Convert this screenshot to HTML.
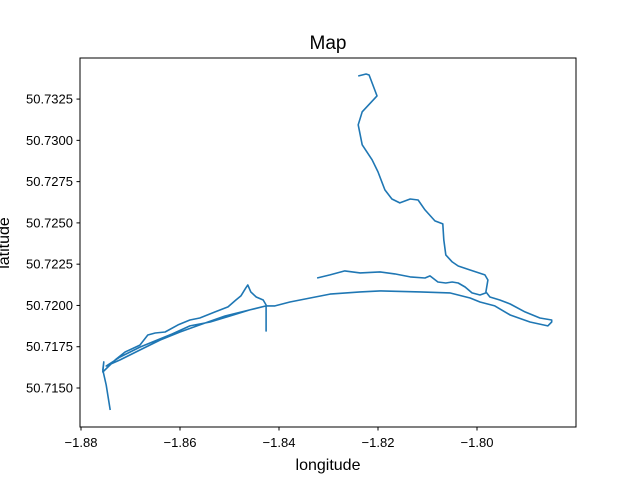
<!DOCTYPE html>
<html><head><meta charset="utf-8"><style>
body{margin:0;background:#fff}
svg{display:block;font-family:"Liberation Sans","DejaVu Sans",sans-serif}
</style></head><body>
<svg id="chart" width="640" height="480">
<rect width="640" height="480" fill="#fff"/>
<text x="328" y="49" font-size="19" text-anchor="middle">Map</text>
<g id="ticks"></g>
<g id="lines"></g>
<rect x="80" y="58" width="496" height="369" fill="none" stroke="#000" stroke-width="1"/>
<text x="328" y="470" font-size="16" text-anchor="middle">longitude</text>
<text transform="translate(9,243) rotate(-90)" font-size="16" text-anchor="middle">latitude</text>
</svg>
<script>
const xTicks=[-1.88,-1.86,-1.84,-1.82,-1.80];
const xTickLabels=["\u22121.88","\u22121.86","\u22121.84","\u22121.82","\u22121.80"];
const yTicks=[50.715,50.7175,50.72,50.7225,50.725,50.7275,50.73,50.7325];
const yTickLabels=["50.7150","50.7175","50.7200","50.7225","50.7250","50.7275","50.7300","50.7325"];
const mainLon=[-1.8741,-1.8749,-1.8756,-1.8754,-1.8756,-1.8731,-1.8711,-1.8681,-1.8665,-1.8650,-1.8630,-1.8604,-1.8580,-1.8560,-1.8529,-1.8503,-1.8487,-1.8477,-1.8467,-1.8463,-1.8457,-1.8446,-1.8432,-1.8426,-1.8426,-1.8426,
-1.8459,-1.8499,-1.8539,-1.8580,-1.8616,-1.8650,-1.8681,-1.8721,-1.8749,
-1.8721,-1.8681,-1.8640,-1.8600,-1.8560,-1.8509,-1.8459,-1.8426,
-1.8408,-1.8378,-1.8337,-1.8297,-1.8236,-1.8196,-1.8115,-1.8055,-1.8014,-1.7994,-1.7964,-1.7933,-1.7893,-1.7857,-1.7849,-1.7849,-1.7873,-1.7903,-1.7933,-1.7954,-1.7974,-1.7982,-1.7978,-1.7984,-1.8014,-1.8038,-1.8050,-1.8063,-1.8067,-1.8069,-1.8085,-1.8105,-1.8119,-1.8135,-1.8156,-1.8172,-1.8186,-1.8200,-1.8212,-1.8232,-1.8240,-1.8232,-1.8202,-1.8218,-1.8224,-1.8240];
const mainLat=[50.71367,50.71518,50.71609,50.71658,50.71597,50.71670,50.71718,50.71760,50.71821,50.71833,50.71839,50.71882,50.71912,50.71924,50.71961,50.71991,50.72033,50.72058,50.72106,50.72124,50.72082,50.72051,50.72033,50.72003,50.71845,50.71997,
50.71973,50.71936,50.71900,50.71876,50.71827,50.71785,50.71748,50.71688,50.71633,
50.71670,50.71730,50.71791,50.71839,50.71882,50.71936,50.71973,50.71997,
50.71997,50.72021,50.72045,50.72069,50.72082,50.72088,50.72082,50.72076,50.72045,50.72021,50.71997,50.71942,50.71900,50.71876,50.71900,50.71912,50.71924,50.71961,50.72009,50.72033,50.72051,50.72082,50.72154,50.72185,50.72215,50.72239,50.72264,50.72306,50.72397,50.72494,50.72512,50.72579,50.72639,50.72645,50.72621,50.72645,50.72700,50.72809,50.72882,50.72973,50.73094,50.73173,50.73269,50.73396,50.73402,50.73390];
const midLon=[-1.8323,-1.8297,-1.8267,-1.8236,-1.8196,-1.8166,-1.8135,-1.8105,-1.8095,-1.8079,-1.8063,-1.8050,-1.8038,-1.8024,-1.8010,-1.7994,-1.7982];
const midLat=[50.72166,50.72185,50.72209,50.72197,50.72203,50.72191,50.72173,50.72166,50.72179,50.72142,50.72136,50.72142,50.72136,50.72112,50.72076,50.72063,50.72076];
const NS="http://www.w3.org/2000/svg";
function xs(v){return 81+(v+1.88)/0.02*99;}
function ys(v){return 388-(v-50.715)/0.001*16.51;}
const tg=document.getElementById('ticks');
xTicks.forEach((t,i)=>{
  const l=document.createElementNS(NS,'line');
  l.setAttribute('x1',xs(t));l.setAttribute('x2',xs(t));l.setAttribute('y1',427);l.setAttribute('y2',430.5);l.setAttribute('stroke','#000');
  
  
  tg.appendChild(l);
  const tx=document.createElementNS(NS,'text');
  tx.setAttribute('x',xs(t));tx.setAttribute('y',447);tx.setAttribute('font-size','13');tx.setAttribute('text-anchor','middle');
  tx.textContent=xTickLabels[i];
  
  
  tg.appendChild(tx);
});
yTicks.forEach((t,i)=>{
  const l=document.createElementNS(NS,'line');
  l.setAttribute('x1',76.5);l.setAttribute('x2',80);l.setAttribute('y1',ys(t));l.setAttribute('y2',ys(t));l.setAttribute('stroke','#000');
  
  
  tg.appendChild(l);
  const tx=document.createElementNS(NS,'text');
  tx.setAttribute('x',73);tx.setAttribute('y',ys(t)+4.5);tx.setAttribute('font-size','13');tx.setAttribute('text-anchor','end');
  tx.textContent=yTickLabels[i];
  
  
  tg.appendChild(tx);
});
const lg=document.getElementById('lines');
function draw(lon,lat,name){
  const p=document.createElementNS(NS,'polyline');
  p.setAttribute('points',lon.map((v,i)=>xs(v).toFixed(1)+','+ys(lat[i]).toFixed(1)).join(' '));
  p.setAttribute('fill','none');p.setAttribute('stroke','#1f77b4');p.setAttribute('stroke-width','1.6');p.setAttribute('stroke-linejoin','round');
  
  
  lg.appendChild(p);
}
draw(mainLon,mainLat,'track-line');
draw(midLon,midLat,'track-line-segment');
</script>
</body></html>
